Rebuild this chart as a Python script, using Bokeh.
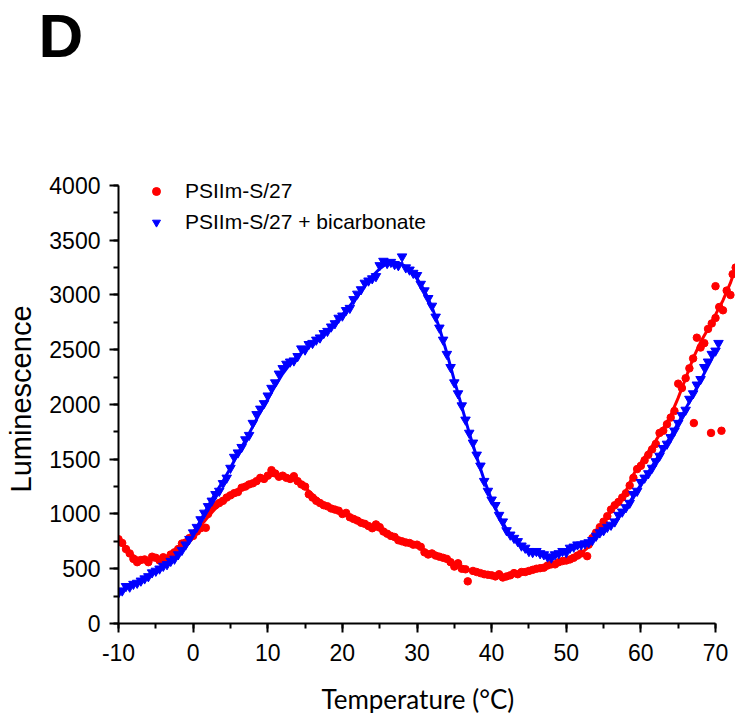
from bokeh.plotting import figure
from bokeh.layouts import column
from bokeh.models import (Range1d, SingleIntervalTicker, Label, Legend, LegendItem,
                          PrintfTickFormatter, Title)
from bokeh.embed import file_html
from bokeh.resources import INLINE

# ---------------- data ----------------
red_temp = [-10, -9.5, -9, -8.5, -8, -7.5, -7, -6.5, -6, -5.5, -5, -4.5, -4, -3.5, -3, -2.5, -2, -1.5, -1, -0.5,
            0, 0.5, 1, 1.7, 2, 2.5, 3, 3.5, 4, 4.5, 5, 5.5, 6, 6.5, 7, 7.5, 8, 8.5, 9, 9.5,
            10, 10.5, 11, 11.5, 12, 12.5, 13, 13.5, 14, 14.5, 15, 15.5, 16, 16.5, 17, 17.5, 18, 18.5, 19, 19.5,
            20, 20.5, 21, 21.5, 22, 22.5, 23, 23.5, 24, 24.5, 25, 25.5, 26, 26.5, 27, 27.5, 28, 28.5, 29, 29.5,
            30, 30.5, 31, 31.5, 32, 32.5, 33, 33.5, 34, 34.5, 35, 35.5, 36, 36.5, 36.8, 37.5, 38, 38.5, 39, 39.5,
            40, 40.5, 41, 41.5, 42, 42.5, 43, 43.5, 44, 44.5, 45, 45.5, 46, 46.5, 47, 47.5, 48, 48.5, 49, 49.5,
            50, 50.5, 51, 51.5, 52, 52.8, 53, 53.5, 54, 54.5, 55, 55.5, 56, 56.5, 57, 57.5, 58, 58.5, 59, 59.5,
            60, 60.5, 61, 61.5, 62, 62.5, 63, 63.5, 64, 64.5, 65, 65.5, 66, 66.5, 67, 67.1, 67.5, 68, 68.5, 69,
            69.4, 69.5, 70, 70, 70.5, 70.8, 71, 71.5, 72, 72.3, 72.7]
red_lum = [770, 735, 680, 640, 590, 560, 580, 585, 560, 610, 600, 575, 605, 590, 630, 650, 680, 730, 740, 780,
           800, 840, 870, 874, 1000, 1060, 1080, 1100, 1120, 1150, 1170, 1190, 1200, 1240, 1250, 1270, 1280, 1300, 1330, 1320,
           1350, 1400, 1370, 1340, 1350, 1330, 1320, 1345, 1300, 1270, 1250, 1180, 1150, 1120, 1100, 1080, 1070, 1050, 1040, 1030,
           1000, 1010, 970, 955, 940, 920, 910, 890, 870, 905, 880, 840, 820, 800, 790, 760, 750, 740, 735, 720,
           720, 700, 650, 630, 640, 620, 610, 600, 590, 560, 520, 550, 500, 495, 385, 480, 470, 460, 450, 445,
           440, 430, 450, 420, 430, 440, 460, 450, 470, 470, 480, 490, 500, 505, 510, 530, 540, 540, 560, 570,
           575, 585, 600, 620, 640, 615, 720, 780, 830, 880, 930, 980, 1040, 1080, 1110, 1150, 1190, 1260, 1330, 1410,
           1440, 1490, 1540, 1590, 1640, 1740, 1760, 1820, 1880, 1940, 2190, 2150, 2240, 2330, 2420, 1830, 2610, 2520, 2560, 2690,
           1740, 2740, 2790, 3080, 2890, 1760, 2860, 3040, 3000, 3190, 3250]

red_fit_temp = [-10, -9, -8, -7, -6, -5, -4, -3, -2, -1, 0, 1, 2, 3, 4, 5, 6, 7, 8, 9, 10, 11, 12, 13, 14, 15,
                16, 17, 18, 19, 20, 21, 22, 23, 24, 25, 26, 27, 28, 29, 30, 31, 32, 33, 34, 35, 36, 37, 38, 39,
                40, 41, 42, 43, 44, 45, 46, 47, 48, 49, 50, 51, 52, 53, 54, 55, 56, 57, 58, 59, 60, 61, 62, 63,
                64, 65, 66, 67, 68, 69, 70, 71, 72, 72.7]
red_fit_lum = [760, 690, 620, 580, 575, 585, 600, 630, 680, 740, 810, 890, 975, 1050, 1110, 1165, 1215, 1260, 1295, 1325,
               1345, 1355, 1350, 1330, 1290, 1240, 1180, 1120, 1075, 1040, 1010, 975, 940, 905, 875, 850, 820, 790, 760, 735,
               710, 670, 640, 610, 580, 545, 515, 490, 470, 455, 445, 438, 435, 445, 460, 478, 497, 515, 535, 555,
               575, 600, 640, 700, 810, 920, 1030, 1120, 1210, 1360, 1470, 1570, 1670, 1780, 1900, 2060, 2240, 2420, 2570, 2690,
               2820, 2950, 3110, 3250]

blue_temp = [-10, -9.5, -9, -8.5, -8, -7.5, -7, -6.5, -6, -5.5, -5, -4.5, -4, -3.5, -3, -2.5, -2, -1.5, -1, -0.5,
             0, 0.5, 1, 1.5, 2, 2.5, 3, 3.5, 4, 4.5, 5, 5.5, 6, 6.5, 7, 7.5, 8, 8.5, 9, 9.5,
             10, 10.5, 11, 11.5, 12, 12.5, 13, 13.5, 14, 14.5, 15, 15.5, 16, 16.5, 17, 17.5, 18, 18.5, 19, 19.5,
             20, 20.5, 21, 21.5, 22, 22.5, 23, 23.5, 24, 24.5, 25, 25.5, 26, 26.5, 27, 27.5, 28, 28.5, 29, 29.5,
             30, 30.5, 31, 31.5, 32, 32.5, 33, 33.5, 34, 34.5, 35, 35.5, 36, 36.5, 37, 37.5, 38, 38.5, 39, 39.5,
             40, 40.5, 41, 41.5, 42, 42.5, 43, 43.5, 44, 44.5, 45, 45.5, 46, 46.5, 47, 47.5, 48, 48.5, 49, 49.5,
             50, 50.5, 51, 51.5, 52, 52.5, 53, 53.5, 54, 54.5, 55, 55.5, 56, 56.5, 57, 57.5, 58, 58.5, 59, 59.5,
             60, 60.5, 61, 61.5, 62, 62.5, 63, 63.5, 64, 64.5, 65, 65.5, 66, 66.5, 67, 67.5, 68, 68.5, 69, 69.5,
             70, 70.4]
blue_lum = [280, 300, 340, 335, 360, 370, 390, 410, 430, 465, 480, 500, 525, 540, 570, 590, 630, 670, 720, 770,
            830, 880, 950, 1010, 1070, 1120, 1180, 1210, 1280, 1330, 1420, 1520, 1560, 1610, 1680, 1720, 1830, 1910, 1960, 2010,
            2080, 2150, 2200, 2280, 2330, 2370, 2390, 2400, 2440, 2510, 2500, 2550, 2560, 2590, 2610, 2650, 2670, 2710, 2740, 2790,
            2810, 2860, 2880, 2960, 3010, 3050, 3110, 3130, 3150, 3170, 3270, 3310, 3290, 3300, 3280, 3270, 3350, 3250, 3230, 3200,
            3180, 3100, 3040, 2970, 2900, 2800, 2700, 2590, 2460, 2340, 2200, 2100, 1990, 1860, 1740, 1650, 1540, 1440, 1300, 1210,
            1130, 1080, 990, 930, 850, 810, 780, 750, 710, 690, 660, 650, 660, 640, 630, 610, 600, 630, 640, 660,
            650, 690, 700, 720, 720, 730, 740, 760, 800, 830, 850, 880, 900, 930, 990, 1020, 1060, 1100, 1180, 1210,
            1290, 1330, 1370, 1420, 1480, 1530, 1600, 1640, 1700, 1760, 1830, 1900, 1950, 2050, 2100, 2180, 2230, 2340, 2390, 2460,
            2490, 2560]

blue_fit_temp = [-10, -9, -8, -7, -6, -5, -4, -3, -2, -1, 0, 1, 2, 3, 4, 5, 6, 7, 8, 9, 10, 11, 12, 13, 14, 15,
                 16, 17, 18, 19, 20, 21, 22, 23, 24, 25, 26, 27, 28, 29, 30, 31, 32, 33, 34, 35, 36, 37, 38, 39,
                 40, 41, 42, 43, 44, 45, 46, 47, 48, 49, 50, 51, 52, 53, 54, 55, 56, 57, 58, 59, 60, 61, 62, 63,
                 64, 65, 66, 67, 68, 69, 70]
blue_fit_lum = [280, 320, 355, 395, 440, 485, 530, 580, 640, 720, 820, 940, 1070, 1190, 1300, 1420, 1550, 1670, 1800, 1930,
                2050, 2170, 2280, 2370, 2440, 2500, 2560, 2620, 2680, 2750, 2820, 2900, 2990, 3080, 3170, 3240, 3290, 3300, 3280, 3230,
                3150, 3040, 2890, 2700, 2470, 2220, 1980, 1740, 1520, 1310, 1130, 980, 860, 770, 710, 665, 640, 625, 620, 630,
                655, 690, 720, 750, 790, 840, 900, 970, 1060, 1160, 1270, 1380, 1490, 1600, 1710, 1830, 1960, 2090, 2220, 2350,
                2480]

series_labels = ["PSIIm-S/27", "PSIIm-S/27 + bicarbonate"]
panel_letter = "D"
x_title = "Temperature (°C)"
y_title = "Luminescence"

RED = "#FF0000"
BLUE = "#0000FF"
FONT = "Liberation Sans"
W = 735

# ---------------- top strip with the panel letter (as a title) ----------------
top = figure(width=W, height=120, output_backend="svg", toolbar_location=None,
             x_range=Range1d(118, W), y_range=Range1d(0, 1),
             x_axis_type=None, y_axis_type=None, min_border=0)
top.outline_line_color = None
top.grid.visible = False
top.title = Title(text=panel_letter, align="left", offset=-80, vertical_align="top", standoff=0,
                  text_font=FONT, text_font_size="62px", text_font_style="bold", text_color="black")

# ---------------- main plot ----------------
p = figure(width=W, height=553, output_backend="svg", toolbar_location=None,
           x_range=Range1d(-10, 72.68), y_range=Range1d(0, 4100),
           min_border_left=118, min_border_right=0, min_border_top=54, min_border_bottom=50)
p.outline_line_color = None
p.grid.visible = False
p.background_fill_color = "white"

p.line(red_fit_temp, red_fit_lum, line_color=RED, line_width=3)
p.line(blue_fit_temp, blue_fit_lum, line_color=BLUE, line_width=3)
r_red = p.scatter(red_temp, red_lum, marker="circle", size=7.5, fill_color=RED, line_color=RED)
r_blue = p.scatter(blue_temp, blue_lum, marker="inverted_triangle", size=9.5,
                   fill_color=BLUE, line_color=BLUE)

p.xaxis.ticker = SingleIntervalTicker(interval=10, num_minor_ticks=2)
p.yaxis.ticker = SingleIntervalTicker(interval=500, num_minor_ticks=2)
p.xaxis.formatter = PrintfTickFormatter(format="%d")
p.yaxis.formatter = PrintfTickFormatter(format="%d")
p.xaxis.bounds = (-10, 70)
p.yaxis.bounds = (0, 4000)
for ax in (p.xaxis, p.yaxis):
    ax.axis_line_width = 2
    ax.axis_line_color = "black"
    ax.major_tick_line_width = 2
    ax.minor_tick_line_width = 2
    ax.major_tick_out = 9
    ax.major_tick_in = 0
    ax.minor_tick_out = 5
    ax.minor_tick_in = 0
    ax.major_label_text_font = FONT
    ax.major_label_text_font_size = "23px"
    ax.major_label_text_color = "black"
p.yaxis.major_label_standoff = 9
p.xaxis.major_label_standoff = 11

p.yaxis.axis_label = y_title
p.yaxis.axis_label_text_font = FONT
p.yaxis.axis_label_text_font_size = "29px"
p.yaxis.axis_label_text_font_style = "normal"
p.yaxis.axis_label_text_color = "black"
p.yaxis.axis_label_standoff = 9

legend = Legend(items=[LegendItem(label=series_labels[0], renderers=[r_red]),
                       LegendItem(label=series_labels[1], renderers=[r_blue])],
                location=(28, 387))
legend.padding = 0
legend.margin = 0
legend.spacing = 3
legend.glyph_width = 20
legend.glyph_height = 28
legend.label_height = 28
legend.label_standoff = 19
legend.border_line_color = None
legend.background_fill_alpha = 0
legend.label_text_font = FONT
legend.label_text_font_size = "21px"
legend.label_text_color = "black"
p.add_layout(legend)

# ---------------- bottom strip with the x-axis title ----------------
bottom = figure(width=W, height=40, output_backend="svg", toolbar_location=None,
                x_range=Range1d(118, W), y_range=Range1d(0, 40),
                x_axis_type=None, y_axis_type=None, min_border=0)
bottom.outline_line_color = None
bottom.grid.visible = False
bottom.add_layout(Label(x=321, y=15, text=x_title, text_font="Lato", text_font_size="26px",
                        text_color="black", text_align="left", text_baseline="alphabetic"))

layout = column(top, p, bottom, spacing=0)
open("out.html", "w").write(file_html(layout, INLINE))
